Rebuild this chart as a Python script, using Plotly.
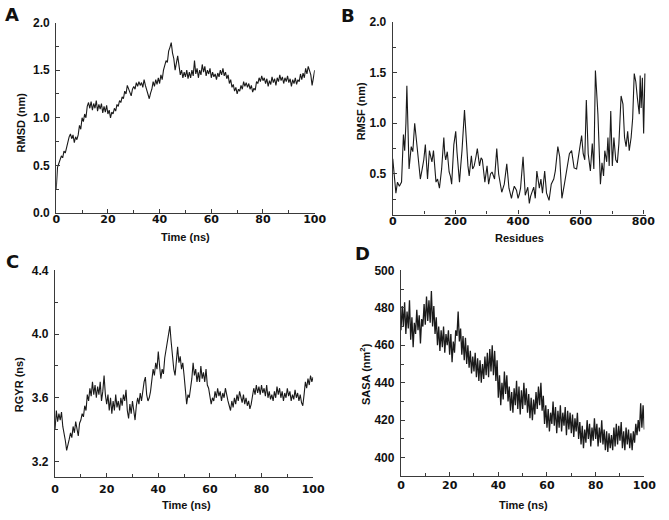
import plotly.graph_objects as go

# ---------------- data ----------------
time_ns = [i / 2 for i in range(201)]

rmsd_nm = [
    0.25, 0.48, 0.52, 0.56, 0.60, 0.58, 0.65, 0.63, 0.70, 0.74, 0.80, 0.83, 0.78, 0.82, 0.74, 0.80, 0.77, 0.82, 0.92, 0.88,
    1.00, 0.96, 1.04, 1.00, 1.12, 1.16, 1.10, 1.17, 1.08, 1.15, 1.10, 1.18, 1.07, 1.14, 1.09, 1.15, 1.05, 1.12, 1.06, 1.13,
    1.04, 1.08, 1.00, 1.06, 1.04, 1.10, 1.07, 1.14, 1.12, 1.18, 1.16, 1.22, 1.20, 1.28, 1.25, 1.34, 1.30, 1.27, 1.23, 1.30,
    1.33, 1.30, 1.37, 1.33, 1.38, 1.34, 1.37, 1.32, 1.40, 1.34, 1.30, 1.24, 1.20, 1.26, 1.30, 1.38, 1.33, 1.40, 1.35, 1.42,
    1.36, 1.45, 1.40, 1.50, 1.55, 1.60, 1.58, 1.70, 1.74, 1.79, 1.68, 1.62, 1.50, 1.58, 1.65, 1.55, 1.45, 1.50, 1.42, 1.48,
    1.43, 1.50, 1.41, 1.48, 1.42, 1.50, 1.44, 1.60, 1.46, 1.52, 1.42, 1.50, 1.45, 1.56, 1.48, 1.54, 1.44, 1.50, 1.46, 1.52,
    1.42, 1.48, 1.43, 1.46, 1.40, 1.47, 1.43, 1.50, 1.45, 1.52, 1.44, 1.48, 1.41, 1.45, 1.36, 1.40, 1.32, 1.35, 1.28, 1.32,
    1.25, 1.30, 1.28, 1.34, 1.30, 1.38, 1.33, 1.37, 1.32, 1.36, 1.30, 1.34, 1.27, 1.31, 1.29, 1.38, 1.36, 1.42, 1.38, 1.44,
    1.39, 1.42, 1.36, 1.41, 1.33, 1.39, 1.35, 1.43, 1.37, 1.41, 1.34, 1.42, 1.38, 1.45, 1.39, 1.43, 1.36, 1.42, 1.38, 1.44,
    1.37, 1.41, 1.33, 1.40, 1.36, 1.42, 1.35, 1.40, 1.38, 1.46, 1.40, 1.47, 1.42, 1.52, 1.46, 1.54, 1.50, 1.45, 1.34, 1.44,
    1.50,
]

rmsf_residue = [
    0, 5, 10, 15, 21, 28, 34, 38, 42, 45,
    49, 52, 56, 59, 64, 70, 74, 78, 83, 88,
    94, 99, 104, 108, 111, 117, 121, 125, 130, 134,
    138, 143, 149, 156, 163, 166, 169, 174, 180, 184,
    188, 195, 201, 205, 209, 213, 217, 221, 229, 236,
    240, 244, 251, 255, 260, 265, 270, 277, 282, 286,
    294, 301, 306, 312, 317, 325, 332, 338, 343, 348,
    356, 364, 371, 379, 383, 388, 395, 400, 404, 408,
    416, 423, 431, 436, 440, 444, 450, 455, 460, 468,
    473, 478, 485, 491, 499, 506, 514, 519, 527, 533,
    540, 548, 556, 564, 571, 579, 587, 595, 603, 608,
    613, 618, 624, 631, 637, 642, 647, 655, 660, 663,
    668, 673, 677, 683, 687, 691, 696, 701, 706, 712,
    717, 722, 729, 735, 740, 745, 750, 755, 761, 766,
    771, 776, 781, 787, 790, 793, 797, 801, 805,
]
rmsf_nm = [
    0.65, 0.45, 0.31, 0.42, 0.38, 0.42, 0.89, 0.73, 1.00, 1.37,
    0.85, 0.55, 0.68, 0.77, 0.72, 1.00, 0.88, 0.77, 0.58, 0.45,
    0.55, 0.64, 0.79, 0.60, 0.45, 0.73, 0.68, 0.62, 0.73, 0.55,
    0.42, 0.45, 0.36, 0.55, 0.86, 0.70, 0.64, 0.72, 0.52, 0.48,
    0.40, 0.79, 0.92, 0.72, 0.60, 0.42, 0.58, 0.73, 1.13, 0.70,
    0.58, 0.48, 0.68, 0.55, 0.58, 0.66, 0.75, 0.58, 0.66, 0.64,
    0.42, 0.58, 0.40, 0.50, 0.52, 0.45, 0.75, 0.50, 0.40, 0.32,
    0.40, 0.60, 0.36, 0.26, 0.32, 0.38, 0.34, 0.26, 0.30, 0.36,
    0.67, 0.29, 0.37, 0.21, 0.28, 0.31, 0.37, 0.26, 0.53, 0.36,
    0.45, 0.31, 0.53, 0.31, 0.24, 0.40, 0.45, 0.53, 0.77, 0.67,
    0.26, 0.40, 0.55, 0.70, 0.73, 0.56, 0.55, 0.70, 0.88, 0.70,
    0.64, 1.23, 0.70, 0.53, 0.80, 0.55, 1.52, 1.09, 0.55, 0.40,
    0.61, 0.48, 0.73, 0.62, 0.86, 0.58, 1.12, 0.58, 0.86, 0.64,
    0.61, 0.80, 1.27, 1.19, 0.86, 0.77, 0.92, 0.73, 0.86, 1.05,
    1.49, 1.41, 1.25, 1.09, 1.47, 1.15, 1.45, 0.90, 1.49,
]

rgyr = [
    3.40, 3.52, 3.45, 3.50, 3.46, 3.51, 3.42, 3.38, 3.33, 3.27, 3.30, 3.34, 3.38, 3.35, 3.42, 3.38, 3.45, 3.40, 3.36, 3.44,
    3.46, 3.50, 3.48, 3.55, 3.52, 3.62, 3.58, 3.66, 3.61, 3.70, 3.62, 3.68, 3.60, 3.67, 3.62, 3.70, 3.58, 3.64, 3.74, 3.62,
    3.56, 3.62, 3.52, 3.60, 3.50, 3.58, 3.52, 3.62, 3.54, 3.58, 3.52, 3.60, 3.55, 3.62, 3.58, 3.65, 3.52, 3.47, 3.56, 3.50,
    3.58, 3.52, 3.46, 3.55, 3.60, 3.56, 3.63, 3.58, 3.66, 3.70, 3.73, 3.62, 3.58, 3.60, 3.64, 3.70, 3.78, 3.74, 3.82, 3.78,
    3.89, 3.80, 3.72, 3.78, 3.75, 3.85, 3.90, 3.96, 4.00, 4.05, 3.95, 3.85, 3.78, 3.74, 3.84, 3.92, 3.82, 3.86, 3.78, 3.82,
    3.74, 3.66, 3.56, 3.62, 3.60, 3.66, 3.72, 3.82, 3.74, 3.78, 3.70, 3.76, 3.70, 3.80, 3.72, 3.76, 3.70, 3.78, 3.68, 3.66,
    3.62, 3.56, 3.60, 3.58, 3.64, 3.60, 3.66, 3.61, 3.64, 3.58, 3.63, 3.60, 3.66, 3.61, 3.58, 3.55, 3.52, 3.58, 3.54, 3.60,
    3.56, 3.62, 3.58, 3.64, 3.60, 3.57, 3.62, 3.56, 3.60, 3.55, 3.58, 3.53, 3.56, 3.62, 3.66, 3.62, 3.68, 3.63, 3.67, 3.62,
    3.68, 3.63, 3.66, 3.61, 3.68, 3.60, 3.64, 3.59, 3.62, 3.58, 3.64, 3.60, 3.67, 3.62, 3.66, 3.60, 3.64, 3.58, 3.63, 3.60,
    3.66, 3.61, 3.64, 3.58, 3.62, 3.59, 3.65, 3.60, 3.63, 3.58, 3.62, 3.57, 3.55, 3.62, 3.70, 3.66, 3.72, 3.68, 3.74, 3.70,
    3.73,
]

sasa = [
    468, 481, 470, 483, 466, 478, 469, 484, 463, 475, 459, 472, 466, 479, 468, 476, 461, 474, 470, 482,
    471, 486, 473, 484, 472, 489, 470, 481, 466, 475, 460, 470, 457, 468, 459, 470, 456, 466, 460, 468,
    455, 466, 451, 462, 456, 468, 465, 478, 462, 469, 455, 465, 452, 464, 450, 460, 448, 457, 445, 454,
    446, 456, 443, 453, 441, 452, 440, 450, 442, 454, 444, 456, 443, 458, 446, 460, 444, 457, 441, 452,
    432, 444, 428, 440, 431, 446, 434, 444, 430, 438, 425, 435, 424, 437, 428, 441, 426, 438, 423, 436,
    426, 440, 428, 437, 424, 434, 421, 432, 420, 431, 423, 435, 426, 438, 428, 440, 425, 433, 418, 428,
    416, 426, 414, 424, 418, 430, 417, 427, 413, 425, 416, 428, 414, 424, 417, 427, 412, 425, 415, 424,
    413, 423, 411, 421, 414, 424, 410, 419, 407, 417, 405, 415, 408, 420, 410, 418, 406, 416, 409, 421,
    410, 418, 406, 416, 408, 420, 407, 415, 404, 414, 403, 413, 405, 412, 404, 416, 406, 418, 407, 417,
    409, 419, 405, 414, 404, 416, 407, 415, 405, 413, 404, 414, 408, 418, 412, 420, 414, 429, 416, 428,
    415,
]

# ---------------- figure ----------------
W, H = 669, 520
LINE = dict(color="#1a1a1a", width=1.1)
LINE_D = dict(color="#1a1a1a", width=1.3)
XTICKFONT = dict(family="DejaVu Sans", size=11, color="#111", weight="bold")
YTICKFONT = dict(family="Liberation Sans", size=12, color="#111", weight="bold")
TITLEFONT = dict(family="Liberation Sans", size=11, color="#111", weight="bold")


def px_x(a, b):
    return [a / W, b / W]


def px_y(top, bottom):
    return [1 - bottom / H, 1 - top / H]


fig = go.Figure()
fig.add_trace(go.Scatter(x=time_ns, y=rmsd_nm, mode="lines", line=LINE, xaxis="x", yaxis="y"))
fig.add_trace(go.Scatter(x=rmsf_residue, y=rmsf_nm, mode="lines", line=LINE, xaxis="x2", yaxis="y2"))
fig.add_trace(go.Scatter(x=time_ns, y=rgyr, mode="lines", line=LINE, xaxis="x3", yaxis="y3"))
fig.add_trace(go.Scatter(x=time_ns, y=sasa, mode="lines", line=LINE_D, xaxis="x4", yaxis="y4"))


def axis(domain, rng, dtick, minor, anchor, font, tick0=None, fmt=None, standoff=3):
    d = dict(
        domain=domain, range=rng, dtick=dtick, anchor=anchor,
        showline=True, linecolor="#3a3a3a", linewidth=1.3,
        showgrid=False, zeroline=False,
        ticks="inside", ticklen=4, tickwidth=1, tickcolor="#3a3a3a",
        tickfont=font, ticklabelstandoff=standoff,
        minor=dict(dtick=minor, ticks="inside", ticklen=3, tickcolor="#3a3a3a", showgrid=False),
    )
    if tick0 is not None:
        d["tick0"] = tick0
    if fmt is not None:
        d["tickformat"] = fmt
    return d


fig.update_layout(
    width=W, height=H, margin=dict(l=0, r=0, t=0, b=0),
    paper_bgcolor="white", plot_bgcolor="white", showlegend=False,
    xaxis=axis(px_x(53.5, 318.3), [0, 100], 20, 10, "y", XTICKFONT, standoff=-4),
    yaxis=axis(px_y(16, 211.7), [0, 2.0], 0.5, 0.25, "x", YTICKFONT, fmt=".1f"),
    xaxis2=axis(px_x(398.3, 658.2), [0, 810], 200, 100, "y2", XTICKFONT, standoff=-4),
    yaxis2=axis(px_y(15.3, 213.3), [0.1, 2.0], 0.5, 0.25, "x2", YTICKFONT, tick0=0, fmt=".1f"),
    xaxis3=axis(px_x(52.3, 316.7), [0, 100], 20, 10, "y3", XTICKFONT, standoff=1),
    yaxis3=axis(px_y(270.7, 483.4), [3.1, 4.4], 0.4, 0.2, "x3", YTICKFONT, tick0=3.2, fmt=".1f"),
    xaxis4=axis(px_x(406.7, 656), [0, 100], 20, 10, "y4", XTICKFONT, standoff=-2),
    yaxis4=axis(px_y(270.7, 482.3), [390, 500], 20, 10, "x4", YTICKFONT, tick0=400),
)

annotations = []


def ann(text, x, y, angle=0, font=TITLEFONT):
    annotations.append(dict(text=text, x=x / W, y=1 - y / H, xref="paper", yref="paper",
                            showarrow=False, textangle=angle, font=font,
                            xanchor="center", yanchor="middle"))


LETTER = dict(family="DejaVu Sans", size=18, color="#111", weight="bold")
ann("A", 8, 8, font=LETTER)
ann("B", 352, 9, font=LETTER)
ann("C", 9, 262, font=LETTER)
ann("D", 367, 253, font=LETTER)

ann("Time (ns)", 186, 236)
ann("Residues", 528, 237)
ann("Time (ns)", 187, 512)
ann("Time (ns)", 532, 512)

ann("RMSD (nm)", 17, 119, angle=-90)
ann("RMSF (nm)", 366, 107, angle=-90)
ann("RGYR (ns)", 15, 388, angle=-90)
ann("SASA (nm<sup>2</sup>)", 370, 377, angle=-90)

fig.update_layout(annotations=annotations)
fig.write_html(
    "out.html",
    config={"displayModeBar": False},
    post_script="document.body.style.margin='0';document.body.style.overflow='hidden';",
)
